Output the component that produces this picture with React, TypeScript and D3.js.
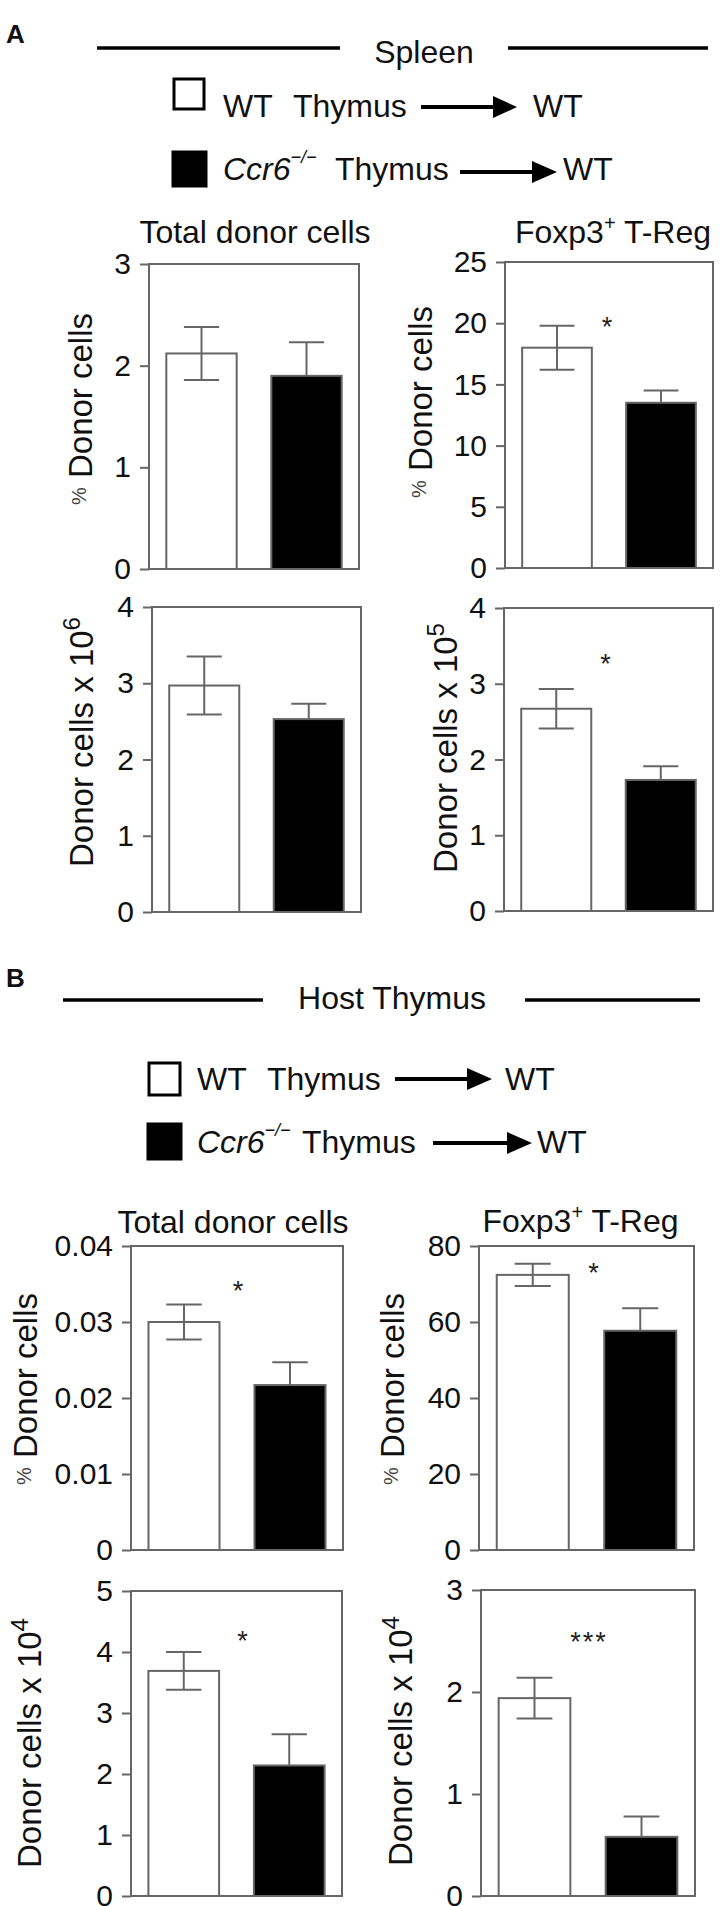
import React, { useEffect, useRef } from "react";
import * as d3 from "d3";

// two groups in each panel
const groups = ["WT Thymus → WT", "Ccr6-/- Thymus → WT"];

// A: spleen
const spleenTotalPct = [2.12, 1.9];
const spleenTotalPctErr = [0.26, 0.33];
const spleenTregPct = [18.0, 13.5];
const spleenTregPctErr = [1.8, 1.0];
const spleenTotalNum = [2.97, 2.53];
const spleenTotalNumErr = [0.38, 0.2];
const spleenTregNum = [2.67, 1.73];
const spleenTregNumErr = [0.26, 0.18];

// B: host thymus
const thymusTotalPct = [0.03, 0.0217];
const thymusTotalPctErr = [0.0023, 0.003];
const thymusTregPct = [72.4, 57.7];
const thymusTregPctErr = [2.9, 5.9];
const thymusTotalNum = [3.69, 2.14];
const thymusTotalNumErr = [0.31, 0.51];
const thymusTregNum = [1.94, 0.58];
const thymusTregNumErr = [0.2, 0.2];

const ticks3 = [0, 1, 2, 3];
const ticks25 = [0, 5, 10, 15, 20, 25];
const ticks4 = [0, 1, 2, 3, 4];
const ticks004 = [0, 0.01, 0.02, 0.03, 0.04];
const ticks80 = [0, 20, 40, 60, 80];
const ticks5 = [0, 1, 2, 3, 4, 5];

const titles = ["Total donor cells", "Foxp3+ T-Reg", "", "", "Total donor cells", "Foxp3+ T-Reg", "", ""];
const exponents = ["", "", "6", "5", "", "", "4", "4"];
const stars = ["", "*", "", "*", "*", "*", "*", "***"];

interface IPanel {
  values: number[];
  err: number[];
  ticks: number[];
}

const panels: IPanel[] = [
  { values: spleenTotalPct, err: spleenTotalPctErr, ticks: ticks3 },
  { values: spleenTregPct, err: spleenTregPctErr, ticks: ticks25 },
  { values: spleenTotalNum, err: spleenTotalNumErr, ticks: ticks4 },
  { values: spleenTregNum, err: spleenTregNumErr, ticks: ticks4 },
  { values: thymusTotalPct, err: thymusTotalPctErr, ticks: ticks004 },
  { values: thymusTregPct, err: thymusTregPctErr, ticks: ticks80 },
  { values: thymusTotalNum, err: thymusTotalNumErr, ticks: ticks5 },
  { values: thymusTregNum, err: thymusTregNumErr, ticks: ticks3 },
];

// frame boxes and label placement for each panel
const layout = [
  { x: 149, y: 264, w: 210, h: 305, titleY: 243, titleDx: 1, labelX: 92, labelY: 409, starDy: 0, starDx: 0 },
  { x: 505, y: 262, w: 208, h: 306, titleY: 243, titleDx: 4, labelX: 432, labelY: 402, starDy: 59, starDx: -2 },
  { x: 152, y: 607, w: 209, h: 305, titleY: 0, titleDx: 0, labelX: 93, labelY: 742, starDy: 0, starDx: 0 },
  { x: 504, y: 608, w: 209, h: 303, titleY: 0, titleDx: 0, labelX: 457, labelY: 748, starDy: 50, starDx: -3 },
  { x: 131, y: 1246, w: 212, h: 304, titleY: 1233, titleDx: -4, labelX: 37, labelY: 1389, starDy: 39, starDx: 1 },
  { x: 479, y: 1246, w: 215, h: 304, titleY: 1232, titleDx: -6, labelX: 404, labelY: 1389, starDy: 21, starDx: 7 },
  { x: 131, y: 1591, w: 211, h: 305, titleY: 0, titleDx: 0, labelX: 41, labelY: 1743, starDy: 44, starDx: 6 },
  { x: 481, y: 1590, w: 214, h: 306, titleY: 0, titleDx: 0, labelX: 412, labelY: 1741, starDy: 46, starDx: 1 },
];

const font = "'Liberation Sans', Arial, Helvetica, sans-serif";
const ink = "#111";
const gray = "#666";
const fills = ["#fff", "#000"];

function Title({ text, x, y }: { text: string; x: number; y: number }) {
  const parts = text.split("+");
  return (
    <text x={x} y={y} textAnchor="middle" fontSize={32} fill={ink}>
      {parts.length > 1 ? (
        <>
          <tspan>{parts[0]}</tspan>
          <tspan fontSize={20} dy={-13}>+</tspan>
          <tspan dy={13}>{parts[1]}</tspan>
        </>
      ) : (
        text
      )}
    </text>
  );
}

function YLabel({ x, y, exp }: { x: number; y: number; exp: string }) {
  return (
    <text
      transform={`translate(${x},${y}) rotate(-90)`}
      textAnchor="middle"
      fontSize={33}
      fill={ink}
    >
      {exp ? (
        <>
          <tspan>Donor cells x 10</tspan>
          <tspan fontSize={24} dy={-13}>{exp}</tspan>
        </>
      ) : (
        <>
          <tspan fontSize={20} dy={-6} fill="#444">%</tspan>
          <tspan dy={6}> Donor cells</tspan>
        </>
      )}
    </text>
  );
}

interface IRow {
  sx: number;
  sy: number;
  sw: number;
  sh: number;
  ty: number;
  ko: boolean;
  t1: number;
  t2: number;
  a0: number;
  a1: number;
  a2: number;
  ay: number;
  t3: number;
}

const legendRows: IRow[] = [
  { sx: 174, sy: 79, sw: 30, sh: 30, ty: 117, ko: false, t1: 223, t2: 293, a0: 421, a1: 493, a2: 517, ay: 107, t3: 533 },
  { sx: 173, sy: 152, sw: 33, sh: 34, ty: 180, ko: true, t1: 223, t2: 335, a0: 460, a1: 532, a2: 557, ay: 172, t3: 563 },
  { sx: 149, sy: 1063, sw: 31, sh: 32, ty: 1090, ko: false, t1: 197, t2: 267, a0: 395, a1: 467, a2: 492, ay: 1079, t3: 505 },
  { sx: 148, sy: 1124, sw: 33, sh: 35, ty: 1153, ko: true, t1: 197, t2: 302, a0: 433, a1: 507, a2: 532, ay: 1143, t3: 537 },
];

function LegendRow({ r }: { r: IRow }) {
  return (
    <g fill={ink} fontSize={32}>
      <rect
        x={r.sx}
        y={r.sy}
        width={r.sw}
        height={r.sh}
        fill={r.ko ? "#000" : "#fff"}
        stroke="#000"
        strokeWidth={3}
      />
      {r.ko ? (
        <text x={r.t1} y={r.ty}>
          <tspan fontStyle="italic">Ccr6</tspan>
          <tspan fontStyle="italic" fontSize={18} dy={-17}>−/−</tspan>
        </text>
      ) : (
        <text x={r.t1} y={r.ty}>WT</text>
      )}
      <text x={r.t2} y={r.ty}>Thymus</text>
      <line x1={r.a0} x2={r.a1 + 2} y1={r.ay} y2={r.ay} stroke="#000" strokeWidth={4} />
      <path d={`M${r.a1},${r.ay - 11}L${r.a2},${r.ay}L${r.a1},${r.ay + 11}Z`} fill="#000" />
      <text x={r.t3} y={r.ty}>WT</text>
    </g>
  );
}

function Panels() {
  const ref = useRef<SVGGElement>(null);

  useEffect(() => {
    if (!ref.current) return;
    const root = d3.select(ref.current);
    root.selectAll("*").remove();

    panels.forEach((p, i) => {
      const L = layout[i];
      const g = root.append("g");
      const x = d3
        .scaleBand()
        .domain(groups)
        .range([L.x, L.x + L.w])
        .paddingInner(0.33)
        .paddingOuter(0.165);
      const y = d3
        .scaleLinear()
        .domain([0, p.ticks[p.ticks.length - 1]])
        .range([L.y + L.h, L.y]);
      const bw = x.bandwidth();

      g.selectAll("rect.bar")
        .data(p.values)
        .join("rect")
        .attr("class", "bar")
        .attr("x", (d, j) => x(groups[j]) as number)
        .attr("y", (d) => y(d))
        .attr("width", bw)
        .attr("height", (d) => y(0) - y(d))
        .attr("fill", (d, j) => fills[j])
        .attr("stroke", gray)
        .attr("stroke-width", 2);

      // error bars: both ways on the open bar, only upward on the filled one
      const errG = g
        .selectAll("g.err")
        .data(p.values)
        .join("g")
        .attr("class", "err")
        .attr("stroke", gray)
        .attr("stroke-width", 2);
      errG
        .append("line")
        .attr("x1", (d, j) => (x(groups[j]) as number) + bw / 2)
        .attr("x2", (d, j) => (x(groups[j]) as number) + bw / 2)
        .attr("y1", (d, j) => (j === 0 ? y(d - p.err[j]) : y(d)))
        .attr("y2", (d, j) => y(d + p.err[j]));
      errG
        .append("line")
        .attr("x1", (d, j) => (x(groups[j]) as number) + bw / 4)
        .attr("x2", (d, j) => (x(groups[j]) as number) + (bw * 3) / 4)
        .attr("y1", (d, j) => y(d + p.err[j]))
        .attr("y2", (d, j) => y(d + p.err[j]));
      errG
        .filter((d, j) => j === 0)
        .append("line")
        .attr("x1", (d, j) => (x(groups[j]) as number) + bw / 4)
        .attr("x2", (d, j) => (x(groups[j]) as number) + (bw * 3) / 4)
        .attr("y1", (d, j) => y(d - p.err[j]))
        .attr("y2", (d, j) => y(d - p.err[j]));

      g.append("rect")
        .attr("x", L.x)
        .attr("y", L.y)
        .attr("width", L.w)
        .attr("height", L.h)
        .attr("fill", "none")
        .attr("stroke", gray)
        .attr("stroke-width", 2);

      const axis = g
        .append("g")
        .attr("transform", `translate(${L.x},0)`)
        .call(
          d3
            .axisLeft(y)
            .tickValues(p.ticks)
            .tickSize(9)
            .tickSizeOuter(0)
            .tickPadding(9)
            .tickFormat((d) => String(d))
        );
      axis.select(".domain").remove();
      axis.selectAll("line").attr("stroke", gray).attr("stroke-width", 2);
      axis
        .selectAll("text")
        .attr("font-size", 30)
        .attr("font-family", font)
        .attr("fill", ink);

      if (stars[i]) {
        const gapMid =
          ((x(groups[0]) as number) + bw + (x(groups[1]) as number)) / 2;
        g.append("text")
          .attr("x", gapMid + L.starDx)
          .attr("y", L.y + L.starDy + 15)
          .attr("text-anchor", "middle")
          .attr("font-size", 27)
          .attr("font-family", font)
          .attr("letter-spacing", stars[i].length > 1 ? 2 : 0)
          .attr("fill", "#222")
          .text(stars[i]);
      }
    });
  }, []);

  return <g ref={ref} />;
}

export default function App(): JSX.Element {
  return (
    <svg
      width={724}
      height={1906}
      style={{ position: "absolute", left: 0, top: 0, display: "block", background: "#fff" }}
      fontFamily={font}
    >
      <rect width={724} height={1906} fill="#fff" />

      {/* section A header */}
      <text x={6} y={43} fontSize={26} fontWeight="bold" fill={ink}>A</text>
      <line x1={97} x2={340} y1={48} y2={48} stroke="#000" strokeWidth={3.5} />
      <line x1={508} x2={708} y1={48} y2={48} stroke="#000" strokeWidth={3.5} />
      <text x={424} y={63} textAnchor="middle" fontSize={32} fill={ink}>Spleen</text>

      {/* section B header */}
      <text x={6} y={987} fontSize={26} fontWeight="bold" fill={ink}>B</text>
      <line x1={63} x2={263} y1={1000} y2={1000} stroke="#000" strokeWidth={3.5} />
      <line x1={525} x2={700} y1={1000} y2={1000} stroke="#000" strokeWidth={3.5} />
      <text x={392} y={1009} textAnchor="middle" fontSize={32} fill={ink}>Host Thymus</text>

      {legendRows.map((r, i) => (
        <LegendRow key={i} r={r} />
      ))}

      {layout.map((L, i) =>
        titles[i] ? (
          <Title key={"t" + i} text={titles[i]} x={L.x + L.w / 2 + L.titleDx} y={L.titleY} />
        ) : null
      )}
      {layout.map((L, i) => (
        <YLabel key={"l" + i} x={L.labelX} y={L.labelY} exp={exponents[i]} />
      ))}

      <Panels />
    </svg>
  );
}
